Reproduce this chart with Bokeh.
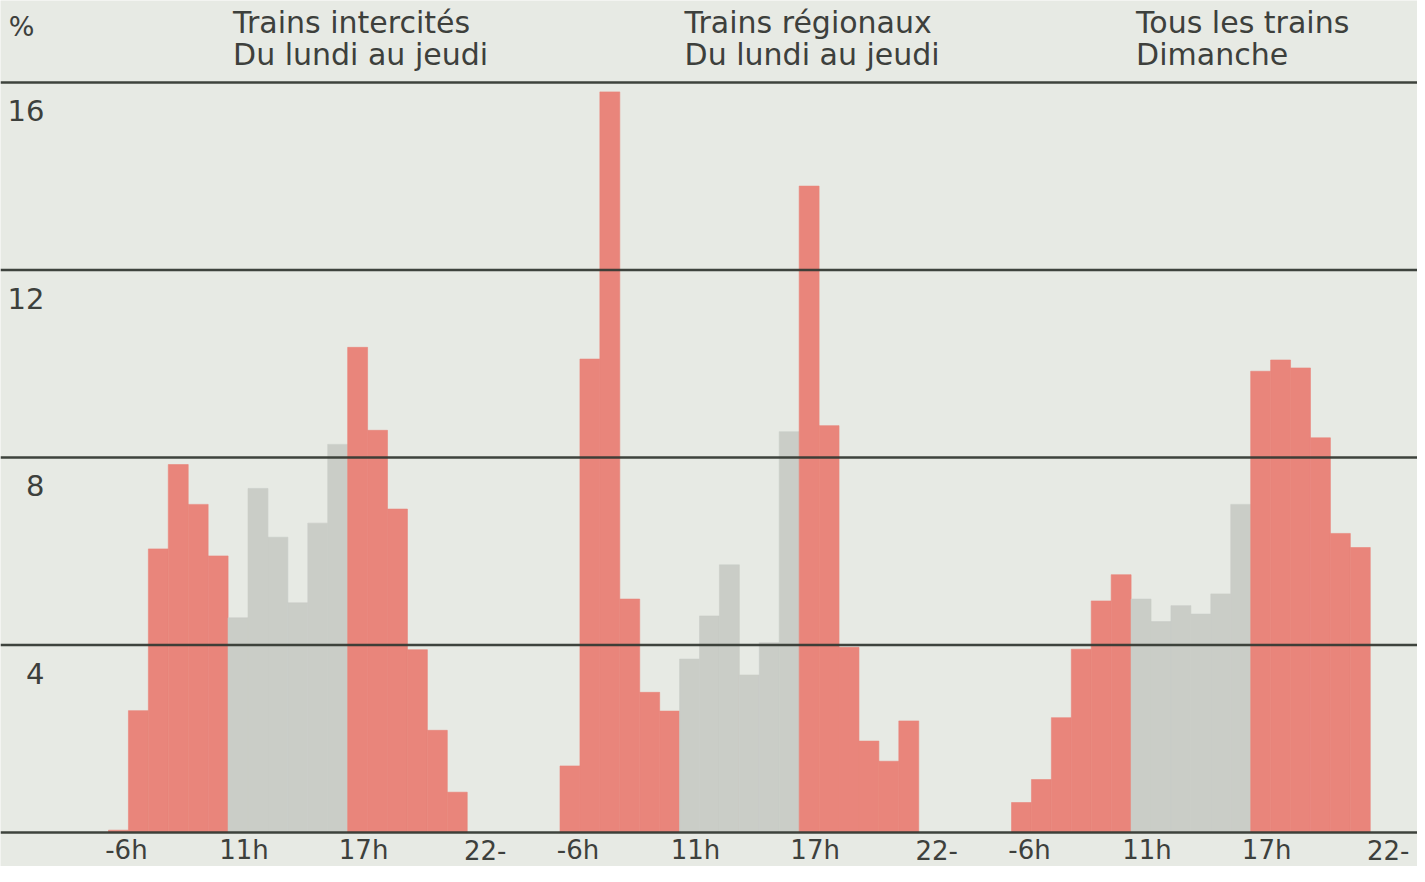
from bokeh.plotting import figure
from bokeh.models import Range1d, Span, ColumnDataSource
from bokeh.core.properties import value
from bokeh.embed import file_html
from bokeh.resources import INLINE

# ---------------- data ----------------
titles_top = ["Trains intercités", "Trains régionaux", "Tous les trains"]
titles_bottom = ["Du lundi au jeudi", "Du lundi au jeudi", "Dimanche"]
hour_labels = ["-6h", "11h", "17h", "22-"]
y_ticks = [0, 4, 8, 12, 16]
y_unit = "%"

# share of daily travellers per hourly slot (%), 18 slots per panel
intercites = [0.05, 2.6, 6.05, 7.85, 7.0, 5.9,
              4.58, 7.34, 6.3, 4.9, 6.6, 8.28,
              10.35, 8.58, 6.9, 3.9, 2.18, 0.86]
regionaux = [1.42, 10.1, 15.8, 4.98, 2.99, 2.59,
             3.7, 4.62, 5.71, 3.36, 4.05, 8.55,
             13.79, 8.68, 3.95, 1.95, 1.52, 2.38]
dimanche = [0.64, 1.13, 2.45, 3.91, 4.94, 5.5,
            4.98, 4.5, 4.84, 4.66, 5.09, 7.0,
            9.84, 10.08, 9.91, 8.42, 6.38, 6.08]
periods = ["pointe", "pointe", "pointe", "pointe", "pointe", "pointe",
           "creuse", "creuse", "creuse", "creuse", "creuse", "creuse",
           "pointe", "pointe", "pointe", "pointe", "pointe", "pointe"]
series = [intercites, regionaux, dimanche]

# ---------------- style / layout ----------------
BG = "#e7eae4"
RED = "#e9857b"
GREY = "#cacdc7"
INK = "#3d403c"
LINE = "#353a34"
FONT = "DejaVu Sans"
PERIOD_COLORS = {"pointe": RED, "creuse": GREY}

W, H = 1417, 866
PX_BIN = 19.93      # pixels per hourly slot
PX_UNIT = 46.875    # pixels per percent
X0_PX = 108         # pixel of first slot's left edge
Y0_PX = 832         # pixel of the 0 % rule
GROUP_STEP = 22.655 # slots between panel starts
HOUR_POS = [0.9, 6.8, 12.8, 18.9]
TITLE_X = 6.25

p = figure(width=W, height=H, output_backend="svg", toolbar_location=None,
           x_range=Range1d(-X0_PX / PX_BIN, (W - X0_PX) / PX_BIN),
           y_range=Range1d(-(H - Y0_PX) / PX_UNIT, Y0_PX / PX_UNIT),
           x_axis_type=None, y_axis_type=None,
           min_border=0, outline_line_color=None,
           background_fill_color=BG, border_fill_color=BG)

# bars
left, right, top, color = [], [], [], []
for g, vals in enumerate(series):
    off = g * GROUP_STEP
    for i, v in enumerate(vals):
        left.append(off + i)
        right.append(off + i + 1)
        top.append(v)
        color.append(PERIOD_COLORS[periods[i]])
src = ColumnDataSource(dict(left=left, right=right, top=top, color=color))
p.quad(left="left", right="right", bottom=0, top="top", source=src,
       fill_color="color", line_color="color", line_width=0.6)

# horizontal rules
for v in y_ticks:
    p.add_layout(Span(location=v, dimension="width", line_color=LINE,
                      line_width=2.4, line_alpha=0.95))

# y labels (below each rule, right aligned)
lab_vals = [v for v in y_ticks if v > 0]
p.text(x=[-3.21] * len(lab_vals), y=[v - 0.6 for v in lab_vals],
       text=[str(v) for v in lab_vals], text_align="right", text_baseline="middle",
       text_font=value(FONT), text_font_size="29px", text_color=INK)
p.text(x=[-5.0], y=[17.2], text=[y_unit], text_align="left", text_baseline="middle",
       text_font=value(FONT), text_font_size="27px", text_color=INK)

# titles
tx = [g * GROUP_STEP + TITLE_X for g in range(3)]
p.text(x=tx, y=[17.29] * 3, text=titles_top, text_align="left", text_baseline="middle",
       text_font=value(FONT), text_font_size="30px", text_color=INK)
p.text(x=tx, y=[16.6] * 3, text=titles_bottom, text_align="left", text_baseline="middle",
       text_font=value(FONT), text_font_size="30px", text_color=INK)

# hour labels
hx, ht = [], []
for g in range(3):
    for pos, lab in zip(HOUR_POS, hour_labels):
        hx.append(g * GROUP_STEP + pos)
        ht.append(lab)
p.text(x=hx, y=[-0.38] * len(hx), text=ht, text_align="center", text_baseline="middle",
       text_font=value(FONT), text_font_size="26px", text_color=INK)

html = file_html(p, INLINE)
html = html.replace("<body>", '<body style="background:%s">' % BG, 1)
open("out.html", "w").write(html)
